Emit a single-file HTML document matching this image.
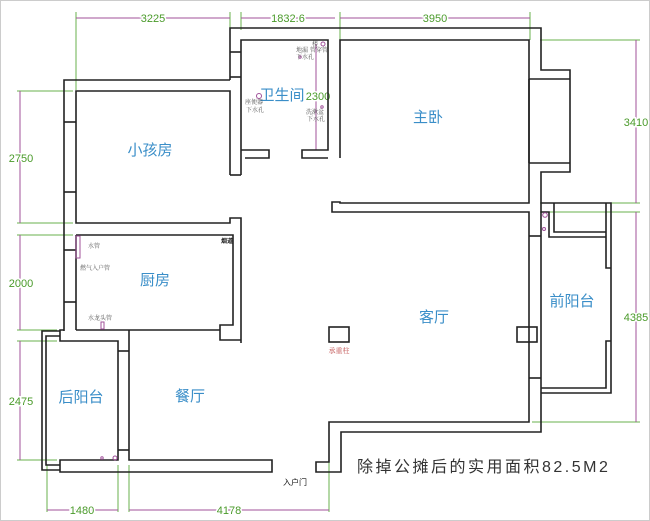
<!DOCTYPE html>
<html><head><meta charset="utf-8"><style>
html,body{margin:0;padding:0;background:#fff}
svg{display:block}
.w{fill:none;stroke:#222;stroke-width:1.6}
.g{stroke:#6ab04c;stroke-width:1}
.m{stroke:#a0509a;stroke-width:1}
.d{font-family:"Liberation Sans",sans-serif;font-size:11px;fill:#4a9a2a;stroke:#fff;stroke-width:3;paint-order:stroke}
.r{font-family:"Liberation Sans","Noto Sans CJK SC",sans-serif;font-size:15px;fill:#3a8ec8}
.s{font-family:"Liberation Serif","Noto Serif CJK SC",serif;font-size:6px;fill:#555}
</style></head><body>
<svg width="650" height="521" viewBox="0 0 650 521" xmlns="http://www.w3.org/2000/svg">
<rect x="0.5" y="0.5" width="649" height="520" fill="#fff" stroke="#ccc"/>
<g class="g">
<line x1="76" y1="12" x2="76" y2="90"/><line x1="230" y1="12" x2="230" y2="80"/>
<line x1="241" y1="12" x2="241" y2="30"/><line x1="340" y1="12" x2="340" y2="40"/>
<line x1="530" y1="12" x2="530" y2="40"/>
<line x1="17" y1="91" x2="73" y2="91"/><line x1="17" y1="223" x2="73" y2="223"/>
<line x1="17" y1="235" x2="73" y2="235"/><line x1="17" y1="330" x2="57" y2="330"/>
<line x1="17" y1="341" x2="57" y2="341"/><line x1="17" y1="460" x2="57" y2="460"/>
<line x1="540" y1="40" x2="640" y2="40"/><line x1="540" y1="203" x2="640" y2="203"/>
<line x1="540" y1="212" x2="640" y2="212"/><line x1="532" y1="422" x2="640" y2="422"/>
<line x1="47" y1="465" x2="47" y2="512"/><line x1="118" y1="465" x2="118" y2="512"/>
<line x1="129" y1="465" x2="129" y2="512"/><line x1="329" y1="462" x2="329" y2="512"/>
</g>
<g class="m">
<line x1="76" y1="18" x2="230" y2="18"/><line x1="241" y1="18" x2="335" y2="18"/>
<line x1="340" y1="18" x2="530" y2="18"/>
<line x1="20" y1="91" x2="20" y2="223"/><line x1="20" y1="235" x2="20" y2="330"/>
<line x1="20" y1="341" x2="20" y2="460"/>
<line x1="636" y1="40" x2="636" y2="203"/><line x1="636" y1="212" x2="636" y2="422"/>
<line x1="47" y1="510" x2="118" y2="510"/><line x1="129" y1="510" x2="329" y2="510"/>
<line x1="316" y1="44" x2="316" y2="150"/>
</g>
<g class="d">
<text x="153" y="22" text-anchor="middle">3225</text>
<text x="288" y="22" text-anchor="middle">1832.6</text>
<text x="435" y="22" text-anchor="middle">3950</text>
<text x="21" y="162" text-anchor="middle">2750</text>
<text x="21" y="287" text-anchor="middle">2000</text>
<text x="21" y="405" text-anchor="middle">2475</text>
<text x="636" y="126" text-anchor="middle">3410</text>
<text x="636" y="321" text-anchor="middle">4385</text>
<text x="82" y="514" text-anchor="middle">1480</text>
<text x="229" y="514" text-anchor="middle">4178</text>
<text x="318" y="100" text-anchor="middle">2300</text>
</g>
<g class="w">
<polyline points="230,80 64,80 64,331"/>
<polyline points="230,175 230,91 76,91 76,223 230,223 230,218 241,218 241,343"/>
<line x1="64" y1="122" x2="76" y2="122"/><line x1="64" y1="192" x2="76" y2="192"/>
<polyline points="241,175 241,40 328,40 328,150 302,150 302,158 328,158"/>
<polyline points="230,175 241,175"/>
<polyline points="230,80 230,28 541,28 541,70 570,70 570,172 541,172 541,203"/>
<line x1="230" y1="52" x2="241" y2="52"/><line x1="230" y1="77" x2="241" y2="77"/>
<polyline points="241,150 269,150 269,158 245,158"/>
<polyline points="340,158 340,40 529,40 529,203 340,203 340,202 332,202 332,212 529,212 529,422 329,422 329,462 316,462 316,472 341,472 341,432 541,432 541,203"/>
<polyline points="529,79 570,79"/><polyline points="529,163 570,163"/><line x1="529" y1="79" x2="529" y2="163"/>
<line x1="529" y1="236" x2="541" y2="236"/><line x1="529" y1="378" x2="541" y2="378"/>
<rect x="517" y="327" width="20" height="15"/>
<polyline points="541,203 611,203 611,393 541,393"/>
<polyline points="606,203 606,268 611,268"/><polyline points="611,341 606,341 606,388 541,388"/>
<polyline points="554,203 554,232 606,232"/>
<polyline points="541,212 549,212 549,237 606,237"/>
<polyline points="76,235 233,235 233,325 220,325 220,340 241,340"/>
<line x1="76" y1="235" x2="76" y2="330"/>
<line x1="64" y1="302" x2="76" y2="302"/><line x1="64" y1="250" x2="76" y2="250"/>
<polyline points="76,330 220,330"/>
<polyline points="129,330 129,460 272,460 272,472 60,472 60,460 118,460 118,341 60,341 60,330 64,330"/>
<line x1="118" y1="351" x2="129" y2="351"/><line x1="118" y1="450" x2="129" y2="450"/>
<polyline points="60,331 42,331 42,470 60,470"/>
<polyline points="60,336 46,336 46,465 60,465"/>
<rect x="329" y="327" width="20" height="15"/>
</g>
<rect x="76" y="236" width="4" height="22" fill="none" stroke="#a0509a"/>
<g fill="none" stroke="#a0509a">
<circle cx="259" cy="96" r="2.5"/><circle cx="323" cy="44" r="2"/><circle cx="300" cy="57" r="1.2"/><circle cx="322" cy="107" r="1.2"/>
<circle cx="545" cy="215" r="2.3"/><circle cx="544" cy="229" r="1.5"/>
<circle cx="102" cy="458" r="1.2"/><circle cx="115" cy="458" r="2"/>
<rect x="101" y="322" width="3" height="7"/>
</g>
<g class="r">
<text x="150" y="155" text-anchor="middle">小孩房</text>
<text x="282" y="100" text-anchor="middle">卫生间</text>
<text x="428" y="122" text-anchor="middle">主卧</text>
<text x="155" y="285" text-anchor="middle">厨房</text>
<text x="434" y="322" text-anchor="middle">客厅</text>
<text x="572" y="306" text-anchor="middle">前阳台</text>
<text x="81" y="402" text-anchor="middle">后阳台</text>
<text x="190" y="401" text-anchor="middle">餐厅</text>
</g>
<g class="s">
<text x="88" y="248">水管</text><text x="80" y="270">燃气入户管</text><text x="88" y="320">水龙头管</text>
<text x="245" y="104">座便器</text><text x="246" y="112">下水孔</text>
<text x="296" y="52">地漏</text><text x="296" y="59">下水孔</text>
<text x="312" y="46">楼</text><text x="310" y="52">管穿管</text>
<text x="306" y="114">洗漱盆</text><text x="307" y="121">下水孔</text>
</g>
<text x="221" y="243" font-family="Liberation Sans,'Noto Sans CJK SC',sans-serif" font-size="6" font-weight="bold" fill="#111">烟道</text>
<text x="339" y="353" text-anchor="middle" font-family="Liberation Serif,'Noto Serif CJK SC',serif" font-size="7" fill="#c05050">承重柱</text>
<text x="295" y="485" text-anchor="middle" font-family="Liberation Sans,'Noto Sans CJK SC',sans-serif" font-size="8" fill="#111">入户门</text>
<text x="357" y="472" font-family="Liberation Sans,'Noto Sans CJK SC',sans-serif" font-size="16" letter-spacing="2.5" fill="#333">除掉公摊后的实用面积82.5M2</text>
</svg>
</body></html>
